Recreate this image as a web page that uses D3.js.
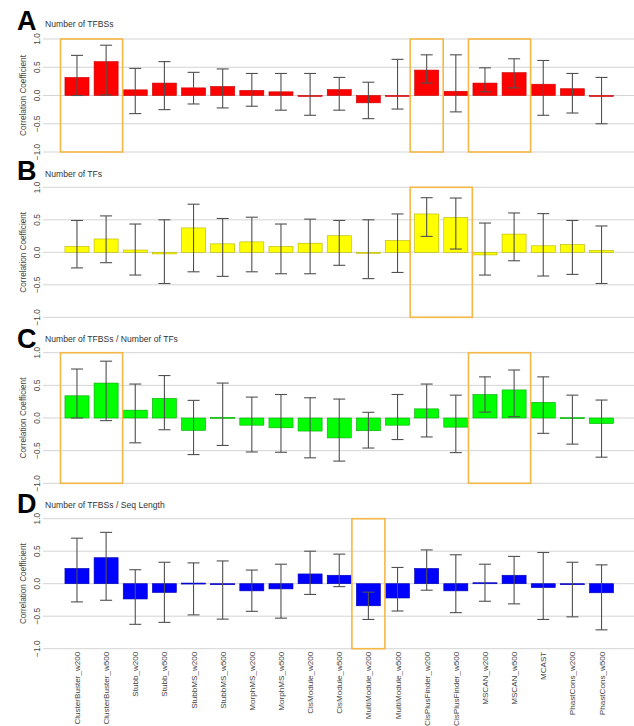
<!DOCTYPE html>
<html>
<head>
<meta charset="utf-8">
<script src="https://cdn.jsdelivr.net/npm/d3@7"></script>
<style>
  html, body { margin: 0; padding: 0; background: #fff; }
  svg { display: block; font-family: "Liberation Sans", Arial, sans-serif; }
</style>
</head>
<body>
<svg id="chart" width="634" height="726"></svg>
<script>
// Prediction methods (x-axis categories)
const methods = ["ClusterBuster_w200","ClusterBuster_w500","Stubb_w200","Stubb_w500","StubbMS_w200","StubbMS_w500",
  "MorphMS_w200","MorphMS_w500","CisModule_w200","CisModule_w500","MultiModule_w200","MultiModule_w500",
  "CisPlusFinder_w200","CisPlusFinder_w500","MSCAN_w200","MSCAN_w500","MCAST","PhastCons_w200","PhastCons_w500"];

const yTicks = [-1.0, -0.5, 0.0, 0.5, 1.0];
const panelLetters = ["A", "B", "C", "D"];
const panelTitles = ["Number of TFBSs", "Number of TFs", "Number of TFBSs / Number of TFs", "Number of TFBSs / Seq Length"];

// A: Number of TFBSs
const tfbsR     = [0.32, 0.60, 0.10, 0.22, 0.135, 0.16, 0.09, 0.065, -0.005, 0.105, -0.13, 0.0, 0.45, 0.075, 0.22, 0.405, 0.20, 0.12, -0.005];
const tfbsUpper = [0.71, 0.89, 0.48, 0.60, 0.41, 0.47, 0.39, 0.39, 0.39, 0.32, 0.235, 0.64, 0.72, 0.72, 0.49, 0.65, 0.62, 0.39, 0.32];
const tfbsLower = [0.0, 0.01, -0.32, -0.25, -0.15, -0.22, -0.19, -0.26, -0.35, -0.26, -0.41, -0.24, 0.22, -0.29, 0.065, 0.135, -0.35, -0.31, -0.50];

// B: Number of TFs
const tfR     = [0.09, 0.205, 0.035, -0.025, 0.375, 0.13, 0.16, 0.09, 0.14, 0.255, -0.005, 0.18, 0.59, 0.535, -0.04, 0.28, 0.10, 0.12, 0.03];
const tfUpper = [0.49, 0.56, 0.435, 0.50, 0.74, 0.52, 0.54, 0.435, 0.51, 0.49, 0.50, 0.59, 0.84, 0.835, 0.45, 0.605, 0.595, 0.49, 0.405];
const tfLower = [-0.24, -0.16, -0.35, -0.48, -0.30, -0.37, -0.30, -0.33, -0.33, -0.20, -0.405, -0.31, 0.245, 0.05, -0.35, -0.13, -0.365, -0.34, -0.48];

// C: Number of TFBSs / Number of TFs
const ratioR     = [0.34, 0.535, 0.12, 0.30, -0.19, 0.01, -0.11, -0.15, -0.20, -0.305, -0.195, -0.11, 0.14, -0.14, 0.36, 0.43, 0.24, 0.005, -0.085];
const ratioUpper = [0.75, 0.87, 0.52, 0.65, 0.27, 0.535, 0.32, 0.36, 0.31, 0.29, 0.087, 0.36, 0.52, 0.35, 0.63, 0.735, 0.63, 0.35, 0.275];
const ratioLower = [0.0, -0.04, -0.38, -0.18, -0.56, -0.42, -0.52, -0.525, -0.61, -0.66, -0.46, -0.33, -0.29, -0.53, 0.09, 0.02, -0.235, -0.40, -0.60];

// D: Number of TFBSs / Seq Length
const densR     = [0.235, 0.40, -0.235, -0.135, 0.01, -0.01, -0.11, -0.08, 0.15, 0.13, -0.34, -0.22, 0.235, -0.11, 0.015, 0.13, -0.06, -0.01, -0.14];
const densUpper = [0.70, 0.79, 0.215, 0.33, 0.32, 0.35, 0.21, 0.30, 0.50, 0.455, -0.13, 0.25, 0.52, 0.445, 0.30, 0.42, 0.48, 0.33, 0.29];
const densLower = [-0.28, -0.255, -0.625, -0.595, -0.48, -0.545, -0.425, -0.53, -0.165, -0.045, -0.55, -0.42, -0.10, -0.445, -0.27, -0.31, -0.55, -0.51, -0.71];

// Highlighted method groups per panel (first and last category)
const highlightA = [["ClusterBuster_w200", "ClusterBuster_w500"], ["CisPlusFinder_w200", "CisPlusFinder_w200"], ["MSCAN_w200", "MSCAN_w500"]];
const highlightB = [["CisPlusFinder_w200", "CisPlusFinder_w500"]];
const highlightC = [["ClusterBuster_w200", "ClusterBuster_w500"], ["MSCAN_w200", "MSCAN_w500"]];
const highlightD = [["MultiModule_w200", "MultiModule_w200"]];

const series = [
  { r: tfbsR,  lo: tfbsLower,  hi: tfbsUpper,  hl: highlightA },
  { r: tfR,    lo: tfLower,    hi: tfUpper,    hl: highlightB },
  { r: ratioR, lo: ratioLower, hi: ratioUpper, hl: highlightC },
  { r: densR,  lo: densLower,  hi: densUpper,  hl: highlightD }
];

// Styling and layout
const fills   = ["#ff0000", "#ffff00", "#00ff00", "#0000ff"];
const strokes = ["#c80000", "#b4b400", "#00a800", "#0000b0"];
const panelTop    = [39, 187.3, 352.7, 518.7];
const panelHeight = [113, 130, 130.6, 130];
const gridLeft = 43, gridRight = 634;
const highlightColor = "#f5b846";

const svg = d3.select("#chart");

const x = d3.scaleBand()
  .domain(methods)
  .range([62.4, 616.1])
  .paddingInner(0.175)
  .paddingOuter(0.0875);
const barW = x.bandwidth();
const center = m => x(m) + barW / 2;
const capHalf = 6;

series.forEach((s, p) => {
  const y = d3.scaleLinear().domain([-1, 1]).range([panelTop[p] + panelHeight[p], panelTop[p]]);
  const g = svg.append("g");

  // Panel letter and title
  g.append("text")
    .attr("x", 17).attr("y", y(1) - [9, 7, 5, 6][p])
    .attr("font-size", 27).attr("font-weight", "bold").attr("fill", "#000")
    .text(panelLetters[p]);
  g.append("text")
    .attr("x", 45).attr("y", y(1) - [12, 10, 10.5, 11][p])
    .attr("font-size", 8.6).attr("fill", "#333")
    .text(panelTitles[p]);

  // Horizontal gridlines
  g.append("g").selectAll("line").data(yTicks).join("line")
    .attr("x1", gridLeft).attr("x2", gridRight)
    .attr("y1", d => y(d)).attr("y2", d => y(d))
    .attr("stroke", "#d4d4d4").attr("stroke-width", 1);

  // Rotated y tick labels
  g.append("g").selectAll("text").data(yTicks).join("text")
    .attr("transform", d => `translate(39.5,${y(d)}) rotate(-90)`)
    .attr("text-anchor", "middle")
    .attr("font-size", 8.4).attr("fill", "#444")
    .text(d => d3.format(".1f")(d));

  // Y axis title
  g.append("text")
    .attr("transform", `translate(25.5,${(y(1) + y(-1)) / 2}) rotate(-90)`)
    .attr("text-anchor", "middle")
    .attr("font-size", 8.2).attr("fill", "#444")
    .text("Correlation Coefficient");

  // Bars
  g.append("g").selectAll("rect").data(methods).join("rect")
    .attr("x", m => x(m))
    .attr("width", barW)
    .attr("y", (m, i) => y(Math.max(0, s.r[i])))
    .attr("height", (m, i) => Math.max(1, Math.abs(y(s.r[i]) - y(0))))
    .attr("fill", fills[p])
    .attr("stroke", strokes[p]).attr("stroke-width", 0.6);

  // Error bars
  const eb = g.append("g").attr("stroke", "#505050").attr("stroke-width", 1.1);
  methods.forEach((m, i) => {
    const cx = center(m);
    eb.append("line").attr("x1", cx).attr("x2", cx).attr("y1", y(s.hi[i])).attr("y2", y(s.lo[i]));
    eb.append("line").attr("x1", cx - capHalf).attr("x2", cx + capHalf).attr("y1", y(s.hi[i])).attr("y2", y(s.hi[i]));
    eb.append("line").attr("x1", cx - capHalf).attr("x2", cx + capHalf).attr("y1", y(s.lo[i])).attr("y2", y(s.lo[i]));
  });

  // Highlight boxes
  g.append("g").selectAll("rect").data(s.hl).join("rect")
    .attr("x", d => center(d[0]) - 16.5)
    .attr("width", d => center(d[1]) - center(d[0]) + 33)
    .attr("y", y(1))
    .attr("height", y(-1) - y(1))
    .attr("fill", "none")
    .attr("stroke", highlightColor).attr("stroke-width", 1.6);

  // Category labels under the last panel
  if (p === series.length - 1) {
    g.append("g").selectAll("text").data(methods).join("text")
      .attr("transform", m => `translate(${center(m) + 3},${y(-1) + 3}) rotate(-90)`)
      .attr("text-anchor", "end")
      .attr("font-size", 8.1).attr("fill", "#444")
      .text(m => m);
  }
});
</script>
</body>
</html>
